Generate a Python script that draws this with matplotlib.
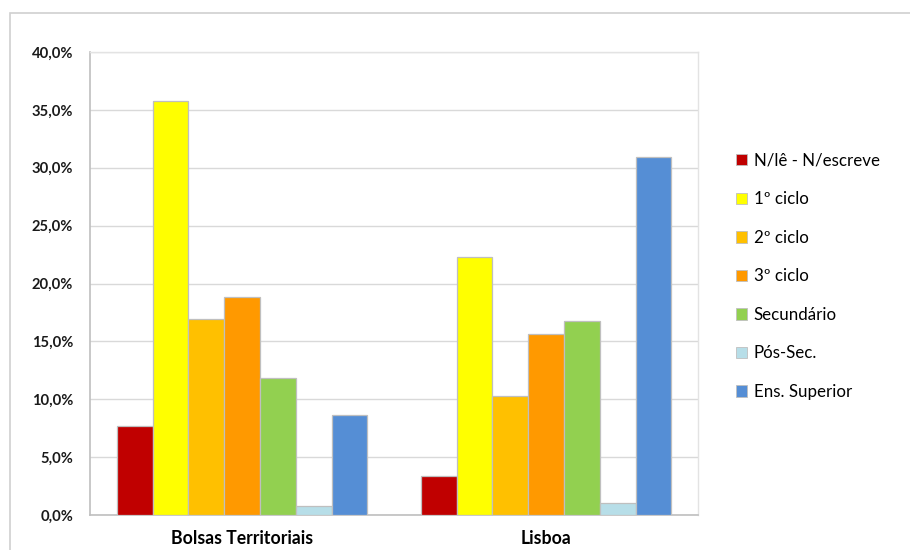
import matplotlib
matplotlib.use("Agg")
import matplotlib.pyplot as plt
import numpy as np
from matplotlib.patches import Rectangle
from matplotlib.ticker import FuncFormatter

plt.rcParams['font.family'] = ['Lato', 'DejaVu Sans']

# Data: share of population by education level (%)
regions = ["Bolsas Territoriais", "Lisboa"]
levels = ["N/lê - N/escreve", "1º ciclo", "2º ciclo", "3º ciclo",
          "Secundário", "Pós-Sec.", "Ens. Superior"]
bolsas = [7.7, 35.8, 16.9, 18.8, 11.8, 0.8, 8.6]
lisboa = [3.4, 22.3, 10.3, 15.6, 16.8, 1.0, 30.9]
colors = ["#C00000", "#FFFF00", "#FFC000", "#FF9900",
          "#92D050", "#B7DEE8", "#558ED5"]
yticks = [0, 5, 10, 15, 20, 25, 30, 35, 40]

W, H = 910, 550
fig = plt.figure(figsize=(W / 100, H / 100), dpi=100)

# outer chart frame
fig.patches.append(Rectangle((10 / W, -0.1), 1.2, 1 - 13 / H + 0.1,
                             transform=fig.transFigure, fill=False,
                             edgecolor="#d0d0d0", linewidth=1.2, zorder=0))

ax = fig.add_axes([90 / W, 1 - 515 / H, 608 / W, 463 / H])

values = np.array([bolsas, lisboa])
x = np.arange(len(regions))
bw = 35.8 / 304
n = len(levels)
for i, (lab, col) in enumerate(zip(levels, colors)):
    offs = (i - (n - 1) / 2) * bw
    ax.bar(x + offs, values[:, i], width=bw, color=col, edgecolor="#BFBFBF",
           linewidth=0.9, label=lab, zorder=3)

ax.set_xlim(-0.5, 1.5)
ax.set_ylim(0, 40)
ax.set_yticks(yticks)
ax.yaxis.set_major_formatter(FuncFormatter(lambda v, p: f"{v:.1f}%".replace(".", ",")))
ax.set_xticks(x)
ax.set_xticklabels(regions, fontsize=12.7, fontweight="bold")
ax.tick_params(axis="y", length=0, pad=12, labelsize=10.6, labelcolor="#1a1a1a")
ax.tick_params(axis="x", length=0, pad=11)
for t in ax.get_yticklabels():
    t.set_fontweight("bold")
ax.grid(axis="y", color="#D9D9D9", linewidth=1, zorder=0)
ax.set_axisbelow(True)
for s in ["top", "right"]:
    ax.spines[s].set_color("#E3E3E3")
    ax.spines[s].set_linewidth(1)
for s in ["left", "bottom"]:
    ax.spines[s].set_color("#BFBFBF")
    ax.spines[s].set_linewidth(1.2)

leg = fig.legend(loc="upper left", bbox_to_anchor=(729 / W, 1 - 146 / H),
                 frameon=False, fontsize=12.2, handlelength=0.65,
                 handleheight=0.65, handletextpad=0.4, labelspacing=1.33,
                 borderaxespad=0)
for h in leg.legend_handles:
    h.set_linewidth(0.6)

fig.savefig("out.png", dpi=100)
